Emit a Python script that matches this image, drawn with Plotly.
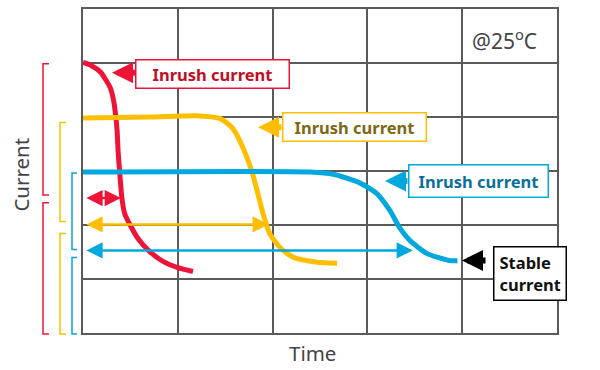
import plotly.graph_objects as go

# ---- data (grid units: x 0..5 columns of time, y 0..6 rows of current) ----
red_x = [0, 0.09, 0.18, 0.24, 0.29, 0.32, 0.34, 0.36, 0.37, 0.39, 0.41, 0.44, 0.50, 0.58, 0.69, 0.84, 1.00, 1.16]
red_y = [5.01, 4.95, 4.84, 4.69, 4.53, 4.33, 4.10, 3.74, 3.37, 2.91, 2.50, 2.21, 1.99, 1.75, 1.53, 1.33, 1.21, 1.14]

yel_x = [0, 0.71, 1.23, 1.45, 1.58, 1.69, 1.79, 1.90, 1.97, 2.08, 2.22, 2.47, 2.68]
yel_y = [3.98, 4.00, 4.02, 3.97, 3.79, 3.42, 2.94, 2.21, 1.84, 1.58, 1.40, 1.31, 1.29]

blu_x = [0, 2.40, 2.64, 2.92, 3.10, 3.24, 3.34, 3.45, 3.63, 3.87, 3.95]
blu_y = [2.98, 2.98, 2.94, 2.78, 2.58, 2.26, 1.95, 1.71, 1.47, 1.34, 1.34]

# duration arrows: (level y, end x)
dur_red = (2.50, 0.40)
dur_yel = (2.01, 1.96)
dur_blu = (1.53, 3.48)

labels = ["Inrush current", "Inrush current", "Inrush current", "Stable<br>current"]
label_pos = [(1.371, 4.795), (2.869, 3.819), (4.177, 2.807), (4.710, 1.104)]
label_size = [(152, 27), (142, 27), (138, 31), (83, 52)]
label_arrow = [(0.306, 0.570, 4.82), (1.846, 2.110, 3.81), (3.186, 3.439, 2.816), (3.998, 4.262, 1.344)]

RED, YEL, BLU, BLK = "#ee1438", "#ffbf00", "#00a8de", "#000000"
TXT = ["#c30d23", "#7d6816", "#0b6f9c", "#111111"]
EDGE = [RED, YEL, BLU, BLK]
FONT = "Noto Sans"

fig = go.Figure()
for xs, ys, c in [(red_x, red_y, RED), (yel_x, yel_y, YEL), (blu_x, blu_y, BLU)]:
    fig.add_trace(go.Scatter(x=xs, y=ys, mode="lines", line=dict(color=c, width=5, shape="spline", smoothing=0.6),
                             hoverinfo="skip", showlegend=False))

ann = []
for (yv, xe), c in [(dur_red, RED), (dur_yel, YEL), (dur_blu, BLU)]:
    ann.append(dict(x=xe, y=yv, ax=0.02, ay=yv, xref="x", yref="y", axref="x", ayref="y", text="",
                    showarrow=True, arrowhead=2, arrowside="end+start", arrowsize=1.3, arrowwidth=2.5,
                    arrowcolor=c, standoff=0, startstandoff=0))

for i, t in enumerate(labels):
    hx, tx, yv = label_arrow[i]
    ann.append(dict(x=hx, y=yv, ax=tx, ay=yv, xref="x", yref="y", axref="x", ayref="y", text="",
                    showarrow=True, arrowhead=2, arrowsize=0.7, arrowwidth=6, arrowcolor=EDGE[i], standoff=0))
    cx, cy = label_pos[i]
    w, h = label_size[i]
    if i == 3:
        ann.append(dict(x=cx, y=cy, xref="x", yref="y", text="<b>%s</b>" % t, showarrow=False,
                        width=w - 22, height=h - 10, bgcolor="white", bordercolor=EDGE[i], borderwidth=1.5,
                        borderpad=5, align="left", font=dict(family=FONT, size=16.5, color=TXT[i])))
    else:
        ann.append(dict(x=cx, y=cy, xref="x", yref="y", text="<b>%s</b>" % t, showarrow=False,
                        width=w, height=h, bgcolor="white", bordercolor=EDGE[i], borderwidth=1.5, borderpad=0,
                        align="center", font=dict(family=FONT, size=16.5, color=TXT[i])))

ann.append(dict(x=4.45, y=5.43, xref="x", yref="y", text="@25<sup>o</sup>C", showarrow=False,
                font=dict(family=FONT, size=21, color="#444444")))
ann.append(dict(x=0.485, y=-0.061, xref="paper", yref="paper", text="Time", showarrow=False, yanchor="middle",
                font=dict(family=FONT, size=20.5, color="#444444")))
ann.append(dict(x=-0.13, y=0.49, xref="paper", yref="paper", text="Current", showarrow=False, textangle=-90,
                xanchor="center", font=dict(family=FONT, size=20.5, color="#444444")))

# brackets on the left (paper coords): (x_line, x_tick, y_top, y_bottom, color)
brackets = [(-0.0844, -0.0717, 0.831, 0.426, RED), (-0.0844, -0.0717, 0.402, -0.003, RED),
            (-0.0485, -0.0359, 0.650, 0.344, YEL), (-0.0485, -0.0359, 0.307, -0.003, YEL),
            (-0.0232, -0.0127, 0.494, 0.258, BLU), (-0.0232, -0.0127, 0.233, -0.003, BLU)]
shapes = []
for x0, x1, yt, yb, c in brackets:
    shapes.append(dict(type="path", xref="paper", yref="paper",
                       path="M %f,%f L %f,%f L %f,%f L %f,%f" % (x1, yt, x0, yt, x0, yb, x1, yb),
                       line=dict(color=c, width=1.5)))

axis = dict(showgrid=True, gridcolor="#5a5a5a", gridwidth=1.5, dtick=1, showticklabels=False, ticks="",
            zeroline=False, showline=True, linecolor="#5a5a5a", linewidth=1.5, mirror=True, fixedrange=True)
fig.update_layout(width=600, height=370, margin=dict(l=83, r=43, t=7, b=37),
                  paper_bgcolor="white", plot_bgcolor="white",
                  xaxis=dict(range=[0, 5], **axis), yaxis=dict(range=[0, 6], **axis),
                  annotations=ann, shapes=shapes)
fig.write_html("out.html", config={"displayModeBar": False},
               post_script="document.body.style.margin='0';")
